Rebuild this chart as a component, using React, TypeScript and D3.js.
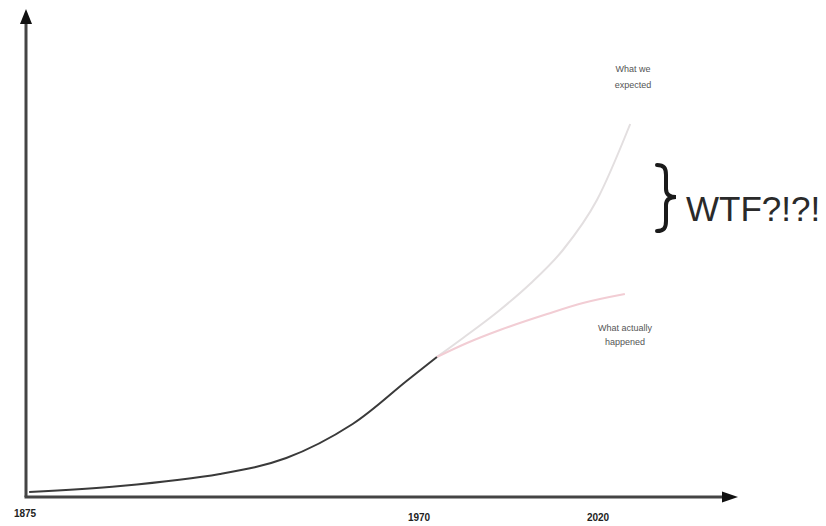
import React from "react";
import * as d3 from "d3";

// Years and heights (units above the x axis)
const baseYears = [1876, 1898, 1922, 1938, 1954, 1967, 1975];
const baseValues = [5, 11, 23, 39, 73, 116, 140];

const expectedYears = [1975, 1982.3, 1992.6, 2001, 2010.2, 2019.7, 2029];
const expectedValues = [140, 159, 187, 213, 247, 297, 373];

const actualYears = [1975, 1983.4, 1992.6, 2005.8, 2015.8, 2027.5];
const actualValues = [140, 154, 167, 183, 194, 203];

const tickYears = [1875, 1970, 2020];
const tickLabels = ["1875", "1970", "2020"];

const W = 826;
const H = 526;

export default function App() {
  const x = d3.scaleLinear().domain([1875, 1970, 2020]).range([25, 419, 598]);
  const y = d3.scaleLinear().domain([0, 486]).range([497, 11]);

  const line = d3
    .line<[number, number]>()
    .x((d) => x(d[0]))
    .y((d) => y(d[1]))
    .curve(d3.curveMonotoneX);

  const baseLine = d3
    .line<[number, number]>()
    .x((d) => x(d[0]))
    .y((d) => y(d[1]))
    .curve(d3.curveCatmullRom.alpha(0.5));

  const zip = (a: number[], b: number[]) => a.map((v, i) => [v, b[i]] as [number, number]);

  const axisX0 = 26;
  const axisY0 = 497;
  const font = "'Liberation Sans', Arial, sans-serif";

  return (
    <svg
      width={W}
      height={H}
      style={{ position: "absolute", left: 0, top: 0, background: "#fff" }}
      fontFamily={font}
    >
      {/* axes */}
      <line x1={axisX0} y1={axisY0} x2={axisX0} y2={22} stroke="#444" strokeWidth={3} />
      <path d={`M${axisX0 - 6},${24} L${axisX0},${9} L${axisX0 + 6},${24} Z`} fill="#111" />
      <line x1={axisX0 - 1.5} y1={axisY0} x2={726} y2={axisY0} stroke="#444" strokeWidth={3} />
      <path d={`M${722},${axisY0 - 5.5} L${738},${axisY0} L${722},${axisY0 + 5.5} Z`} fill="#111" />

      {/* curves */}
      <path d={line(zip(expectedYears, expectedValues)) || ""} fill="none" stroke="#e3dfe0" strokeWidth={2} />
      <path d={line(zip(actualYears, actualValues)) || ""} fill="none" stroke="#f2cdd4" strokeWidth={2} />
      <path d={baseLine(zip(baseYears, baseValues)) || ""} fill="none" stroke="#3a3a3a" strokeWidth={2} />

      {/* tick labels */}
      {tickYears.map((yr, i) => (
        <text
          key={yr}
          x={x(yr)}
          y={i === 0 ? 517 : 521}
          textAnchor="middle"
          fontSize={10}
          fontWeight="bold"
          fill="#222"
        >
          {tickLabels[i]}
        </text>
      ))}

      {/* annotations */}
      <text x={633} y={72} textAnchor="middle" fontSize={9} fill="#555">
        What we
      </text>
      <text x={633} y={88} textAnchor="middle" fontSize={9} fill="#555">
        expected
      </text>
      <text x={625} y={331} textAnchor="middle" fontSize={9} fill="#555">
        What actually
      </text>
      <text x={625} y={345} textAnchor="middle" fontSize={9} fill="#555">
        happened
      </text>

      {/* brace */}
      <path
        d="M657,165 C664,165 666,168 666,175 L666,189 C666,194 669,197 676,197 C669,197 666,200 666,205 L666,221 C666,228 664,231 657,231"
        fill="none"
        stroke="#1a1a1a"
        strokeWidth={4}
        strokeLinecap="round"
      />
      <text x={686} y={221} fontSize={35} fill="#2a2a2a">
        WTF?!?!
      </text>
    </svg>
  );
}
